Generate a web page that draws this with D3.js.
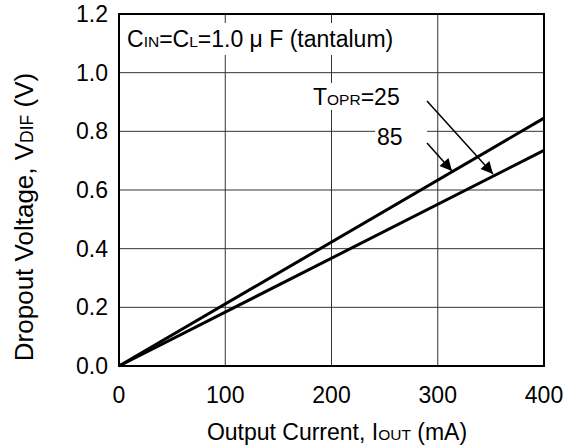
<!DOCTYPE html>
<html><head><meta charset="utf-8">
<script src="https://cdn.jsdelivr.net/npm/d3@7"></script>
<style>body{margin:0;background:#fff}text{font-family:"Liberation Sans",Arial,sans-serif;fill:#000}</style>
</head><body>
<svg id="c" width="564" height="448"></svg>
<script>
const xTicks = [0,100,200,300,400];
const yTicks = [0.0,0.2,0.4,0.6,0.8,1.0,1.2];
const currents = [0, 400];
const v25 = [0, 0.735];
const v85 = [0, 0.845];

const svg = d3.select("#c");
const m = {l:119, r:544, t:14, b:366};
const x = d3.scaleLinear().domain([0,400]).range([m.l,m.r]);
const y = d3.scaleLinear().domain([0,1.2]).range([m.b,m.t]);

// grid
svg.append("g").selectAll("line").data(xTicks.slice(1,-1)).join("line")
  .attr("x1",d=>x(d)).attr("x2",d=>x(d)).attr("y1",m.t).attr("y2",m.b)
  .attr("stroke","#333").attr("stroke-width",1);
svg.append("g").selectAll("line").data(yTicks.slice(1,-1)).join("line")
  .attr("y1",d=>y(d)).attr("y2",d=>y(d)).attr("x1",m.l).attr("x2",m.r)
  .attr("stroke","#333").attr("stroke-width",1);

// label backgrounds
[[124,23,274,32],[311,83,116,27],[375,122,52,28]].forEach(r=>
  svg.append("rect").attr("x",r[0]).attr("y",r[1]).attr("width",r[2]).attr("height",r[3]).attr("fill","#fff"));

function label(parts, xx, yy, anchor, big, small){
  big = big||23; small = small||15.5;
  const t = svg.append("text").attr("x",xx).attr("y",yy).attr("font-size",big).attr("text-anchor",anchor||"start");
  parts.forEach(p=>t.append("tspan").text(p[0]).attr("font-size",p[1]?small:big));
  return t;
}
label([["C"],["IN",1],["=C"],["L",1],["=1.0 μ F (tantalum)"]],127,47);
label([["T"],["OPR",1],["=25"]],313,105);
label([["85"]],377,145);

// data lines
const line = d3.line().x((d,i)=>x(currents[i])).y(d=>y(d));
[v25,v85].forEach(s=>svg.append("path").attr("d",line(s)).attr("fill","none").attr("stroke","#000").attr("stroke-width",3));

// arrows
svg.append("defs").append("marker").attr("id","ah").attr("viewBox","0 0 10 10").attr("refX",10).attr("refY",5)
  .attr("markerWidth",17).attr("markerHeight",12).attr("markerUnits","userSpaceOnUse").attr("orient","auto")
  .append("path").attr("d","M0,0L10,5L0,10z").attr("fill","#000");
[[427,101,493,174],[427,143,452,171]].forEach(a=>svg.append("line").attr("x1",a[0]).attr("y1",a[1]).attr("x2",a[2]).attr("y2",a[3])
  .attr("stroke","#000").attr("stroke-width",1.5).attr("marker-end","url(#ah)"));

// border
svg.append("rect").attr("x",m.l).attr("y",m.t).attr("width",m.r-m.l).attr("height",m.b-m.t)
  .attr("fill","none").attr("stroke","#000").attr("stroke-width",2);

// tick labels
svg.append("g").selectAll("text").data(xTicks).join("text")
  .attr("x",d=>x(d)).attr("y",m.b+37).attr("text-anchor","middle").attr("font-size",23).text(d=>d);
svg.append("g").selectAll("text").data(yTicks).join("text")
  .attr("x",m.l-11).attr("y",d=>y(d)+8).attr("text-anchor","end").attr("font-size",23).text(d=>d.toFixed(1));

// axis titles
label([["Output Current, I"],["OUT",1],[" (mA)"]],337,440,"middle",23,15.5);
const yt = svg.append("text").attr("transform","translate(33,217) rotate(-90)").attr("text-anchor","middle").attr("font-size",26);
[["Dropout Voltage, V",0],["DIF",1],[" (V)",0]].forEach(p=>yt.append("tspan").text(p[0]).attr("font-size",p[1]?17.5:26));
</script>
</body></html>
